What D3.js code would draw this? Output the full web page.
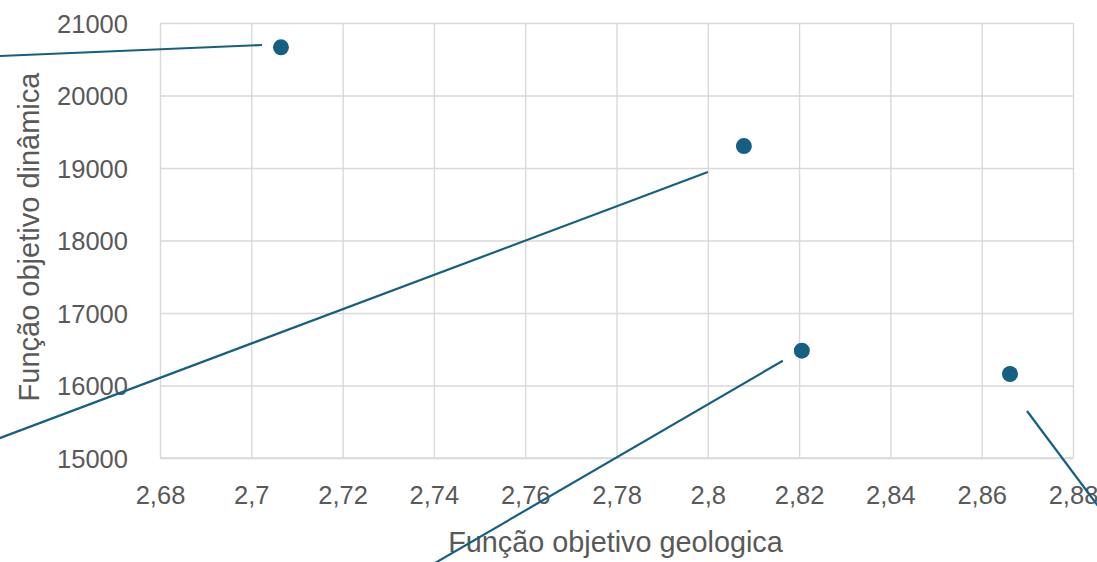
<!DOCTYPE html>
<html>
<head>
<meta charset="utf-8">
<script src="https://cdn.jsdelivr.net/npm/d3@7"></script>
<style>
  html, body { margin: 0; padding: 0; background: #fff; overflow: hidden; }
  svg { display: block; }
</style>
</head>
<body>
<svg id="chart" width="1097" height="562"></svg>
<script>
// Objective-function values of each solution
const geologica = [2.7065, 2.8079, 2.8206, 2.8662];
const dinamica = [20665, 19303, 16480, 16159];

// Axis ticks
const xTicks = [2.68, 2.70, 2.72, 2.74, 2.76, 2.78, 2.80, 2.82, 2.84, 2.86, 2.88];
const xTickLabels = ["2,68", "2,7", "2,72", "2,74", "2,76", "2,78", "2,8", "2,82", "2,84", "2,86", "2,88"];
const yTicks = [15000, 16000, 17000, 18000, 19000, 20000, 21000];
const yTickLabels = ["15000", "16000", "17000", "18000", "19000", "20000", "21000"];

const xTitle = "Função objetivo geologica";
const yTitle = "Função objetivo dinâmica";

const W = 1097, H = 562;
const plot = { left: 160, right: 1073, top: 23, bottom: 458 };
const markColor = "#156082";
const gridColor = "#d9d9d9";
const textColor = "#595959";
const font = "'Liberation Sans', Arial, sans-serif";

const svg = d3.select("#chart");

const x = d3.scaleLinear().domain([2.68, 2.88]).range([plot.left, plot.right]);
const y = d3.scaleLinear().domain([15000, 21000]).range([plot.bottom, plot.top]);

// Vertical gridlines + x tick labels
const xAxis = d3.axisBottom(x)
  .tickValues(xTicks)
  .tickSize(-(plot.bottom - plot.top))
  .tickPadding(28)
  .tickFormat((d, i) => xTickLabels[i]);

const gx = svg.append("g")
  .attr("transform", `translate(0,${plot.bottom})`)
  .call(xAxis);
gx.select(".domain").remove();
gx.selectAll(".tick line").attr("stroke", gridColor).attr("stroke-width", 1.4);
gx.selectAll(".tick text")
  .attr("fill", textColor)
  .attr("font-family", font)
  .attr("font-size", 25.5)
  .attr("dy", "0.71em")
  .attr("y", 28);

// Horizontal gridlines + y tick labels
const yAxis = d3.axisLeft(y)
  .tickValues(yTicks)
  .tickSize(-(plot.right - plot.left))
  .tickPadding(32)
  .tickFormat((d, i) => yTickLabels[i]);

const gy = svg.append("g")
  .attr("transform", `translate(${plot.left},0)`)
  .call(yAxis);
gy.select(".domain").remove();
gy.selectAll(".tick line").attr("stroke", gridColor).attr("stroke-width", 1.4);
gy.selectAll(".tick text")
  .attr("fill", textColor)
  .attr("font-family", font)
  .attr("font-size", 25.5)
  .attr("dy", "0.36em");

// Bottom axis line
svg.append("line")
  .attr("x1", plot.left).attr("x2", plot.right)
  .attr("y1", plot.bottom).attr("y2", plot.bottom)
  .attr("stroke", gridColor).attr("stroke-width", 1.6);

// Axis titles
svg.append("text")
  .attr("x", (plot.left + plot.right) / 2 - 1)
  .attr("y", 552)
  .attr("text-anchor", "middle")
  .attr("fill", textColor)
  .attr("font-family", font)
  .attr("font-size", 28.8)
  .text(xTitle);

svg.append("text")
  .attr("transform", "translate(39,237) rotate(-90)")
  .attr("text-anchor", "middle")
  .attr("fill", textColor)
  .attr("font-family", font)
  .attr("font-size", 29)
  .text(yTitle);

const points = geologica.map((g, i) => ({ gx: g, dy: dinamica[i] }));

// Leader lines running from each point toward its data label (labels sit outside the frame)
const leaders = [
  { start: [-19, -2.3], end: [-300, 9.5] },
  { start: [-36, 26], end: [-760, 298] },
  { start: [-19, 10], end: [-380, 220] },
  { start: [17, 37], end: [100, 148] }
];

svg.append("g")
  .selectAll("line")
  .data(points)
  .join("line")
  .attr("x1", (d, i) => x(d.gx) + leaders[i].start[0])
  .attr("y1", (d, i) => y(d.dy) + leaders[i].start[1])
  .attr("x2", (d, i) => x(d.gx) + leaders[i].end[0])
  .attr("y2", (d, i) => y(d.dy) + leaders[i].end[1])
  .attr("stroke", markColor)
  .attr("stroke-width", 2.2);

// Scatter markers
svg.append("g")
  .selectAll("circle")
  .data(points)
  .join("circle")
  .attr("cx", d => x(d.gx))
  .attr("cy", d => y(d.dy))
  .attr("r", 8)
  .attr("fill", markColor);
</script>
</body>
</html>
